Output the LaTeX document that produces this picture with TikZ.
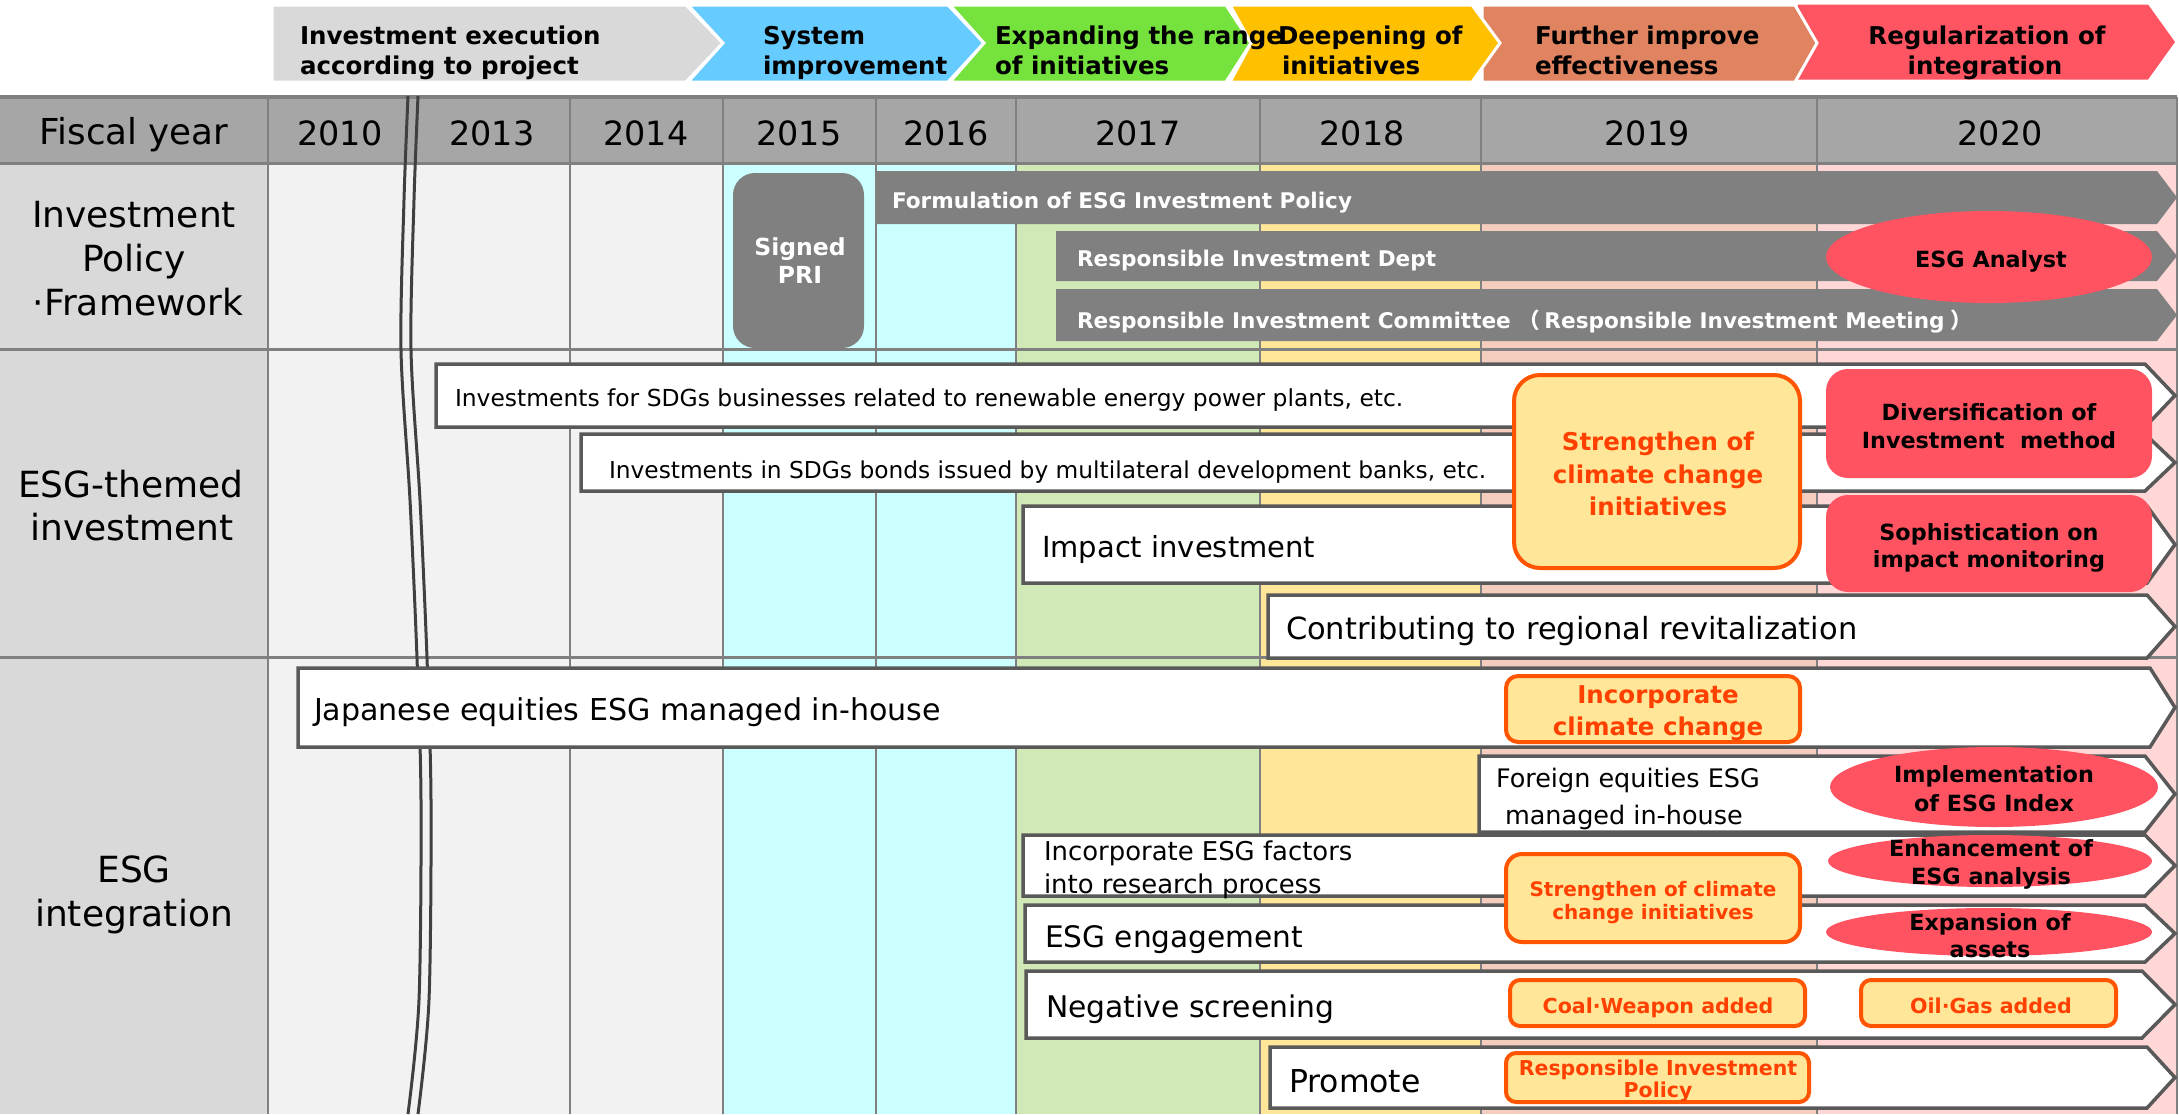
\documentclass[tikz,border=0pt]{standalone}
\usepackage{fontspec}
\setmainfont{DejaVu Sans}
\newfontfamily\cjkfont{Noto Sans CJK JP}
\newcommand\fsz[1]{\fontsize{#1}{#1}\selectfont}
% palette
\definecolor{hdr}{HTML}{A6A6A6}
\definecolor{gridgray}{HTML}{808080}
\definecolor{colLabel}{HTML}{D9D9D9}
\definecolor{colEarly}{HTML}{F2F2F2}
\definecolor{colCyan}{HTML}{CCFFFF}
\definecolor{colGreen}{RGB}{208,233,182}
\definecolor{colYellow}{HTML}{FFE699}
\definecolor{colSalmon}{RGB}{244,205,191}
\definecolor{colPink}{RGB}{255,215,215}
\definecolor{phGray}{HTML}{D9D9D9}
\definecolor{phBlue}{RGB}{102,204,255}
\definecolor{phGreen}{RGB}{118,226,62}
\definecolor{phYellow}{HTML}{FFC000}
\definecolor{phSalmon}{RGB}{224,131,97}
\definecolor{phRed}{RGB}{255,85,99}
\definecolor{barline}{HTML}{595959}
\definecolor{gbarfill}{HTML}{808080}
\definecolor{redfill}{RGB}{255,83,97}
\definecolor{ofill}{HTML}{FFE699}
\definecolor{oline}{HTML}{FF5500}
\definecolor{otext}{HTML}{FF4000}
\definecolor{breakline}{HTML}{404040}
\begin{document}
\begin{tikzpicture}[x=1pt,y=-1pt,
  t/.style={inner sep=0pt,outer sep=0pt},
  phase/.style={draw=white,line width=3pt,line join=miter},
  ptext/.style={t,font=\bfseries\fsz{24.5},anchor=base west},
  pctext/.style={t,font=\bfseries\fsz{24.5},anchor=base},
  gridv/.style={draw=gridgray,line width=2pt},
  gridh/.style={draw=gridgray,line width=3pt},
  rowlabel/.style={t,font=\fsz{36},anchor=base},
  yeartext/.style={t,font=\fsz{33.4},anchor=base},
  gbar/.style={fill=gbarfill},
  gtext/.style={t,font=\bfseries\fsz{21.6},text=white,anchor=base west},
  wbar/.style={fill=white,draw=barline,line width=3.5pt,line join=miter},
  wtext/.style={t,anchor=base west},
  obox/.style={fill=ofill,draw=oline,line width=4pt},
  otextstyle/.style={t,font=\bfseries,text=otext,anchor=base},
  rtext/.style={t,font=\bfseries\fsz{22.3},anchor=base},
  breakstroke/.style={draw=breakline,line width=3pt}
]
\fill[white] (0,0) rectangle (2179,1114);
\useasboundingbox (0,0) rectangle (2179,1114);

% ---------- phase banner ----------
\path[phase,fill=phRed] (1796,3) -- (2149,3) -- (2177,42) -- (2149,81) -- (1796,81) -- cycle;
\path[phase,fill=phSalmon] (1482,5) -- (1795,5) -- (1817,43) -- (1795,82) -- (1482,82) -- cycle;
\path[phase,fill=phGray] (272,5) -- (686,5) -- (723,43) -- (686,82) -- (272,82) -- cycle;
\path[phase,fill=phBlue] (688,5) -- (948,5) -- (984,43) -- (948,82) -- (688,82) -- (723,43) -- cycle;
\path[phase,fill=phGreen] (950,5) -- (1226,5) -- (1251,43) -- (1226,82) -- (950,82) -- (984,43) -- cycle;
\path[phase,fill=phYellow] (1230,5) -- (1472,5) -- (1500,43) -- (1472,82) -- (1230,82) -- (1251,43) -- cycle;

% ---------- table background ----------
\fill[colLabel] (0,163) rectangle (268,1114);
\fill[colEarly] (268,163) rectangle (723,1114);
\fill[colCyan] (723,163) rectangle (1016,1114);
\fill[colGreen] (1016,163) rectangle (1260,1114);
\fill[colYellow] (1260,163) rectangle (1481,1114);
\fill[colSalmon] (1481,163) rectangle (1817,1114);
\fill[colPink] (1817,163) rectangle (2177,1114);
\fill[hdr] (0,97) rectangle (2177,163);
\foreach \gx in {268,570,723,876,1016,1260,1481,1817,2177}
  \path[gridv] (\gx,97) -- (\gx,1114);
\foreach \gy in {163,349,657}
  \path[gridh] (0,\gy) -- (2177,\gy);
\path[draw=gridgray,line width=3.5pt] (0,97) -- (2177,97);

% ---------- break marks between 2010 and 2013 ----------
\path[breakstroke] plot[smooth] coordinates {(408,96) (404,200) (401,350) (410,500) (417,658) (421,800) (419,1000) (408,1114)};
\path[breakstroke] plot[smooth] coordinates {(418,96) (414,200) (411,350) (420,500) (427,658) (431,800) (429,1000) (418,1114)};

% ---------- investment policy / framework ----------
\fill[gbarfill,rounded corners=22pt] (733,173) rectangle (864,348);
\path[gbar] (875,171) -- (2157,171) -- (2177,197.5) -- (2157,224) -- (875,224) -- cycle;
\path[gbar] (1056,231) -- (2157,231) -- (2177,256) -- (2157,281) -- (1056,281) -- cycle;
\path[gbar] (1056,289) -- (2157,289) -- (2177,315) -- (2157,341) -- (1056,341) -- cycle;
\fill[redfill] (1989,257) ellipse [x radius=163pt,y radius=46pt];

% ---------- ESG-themed investment ----------
\path[wbar] (436,364) -- (2145,364) -- (2175,395.5) -- (2145,427) -- (436,427) -- cycle;
\path[wbar] (581,434) -- (2145,434) -- (2175,462.5) -- (2145,491) -- (581,491) -- cycle;
\path[wbar] (1023,506) -- (2147,506) -- (2175,544.5) -- (2147,583) -- (1023,583) -- cycle;
\path[wbar] (1268,595) -- (2147,595) -- (2175,626.5) -- (2147,658) -- (1268,658) -- cycle;
\path[obox,rounded corners=26pt] (1514,375) rectangle (1800,568);
\fill[redfill,rounded corners=22pt] (1826,369) rectangle (2152,478);
\fill[redfill,rounded corners=22pt] (1826,495) rectangle (2152,592);

% ---------- ESG integration ----------
\path[wbar] (298,668) -- (2150,668) -- (2175,707.5) -- (2150,747) -- (298,747) -- cycle;
\path[wbar] (1479,756) -- (2145,756) -- (2175,794) -- (2145,832) -- (1479,832) -- cycle;
\path[wbar] (1023,835) -- (2145,835) -- (2175,865.5) -- (2145,896) -- (1023,896) -- cycle;
\path[wbar] (1025,905) -- (2145,905) -- (2175,933.5) -- (2145,962) -- (1025,962) -- cycle;
\path[wbar] (1026,971) -- (2142,971) -- (2175,1004.5) -- (2142,1038) -- (1026,1038) -- cycle;
\path[wbar] (1270,1047) -- (2147,1047) -- (2175,1077.5) -- (2147,1108) -- (1270,1108) -- cycle;
\path[obox,rounded corners=12pt] (1506,676) rectangle (1800,742);
\path[obox,rounded corners=16pt] (1506,854) rectangle (1800,942);
\path[obox,rounded corners=10pt] (1510,980) rectangle (1805,1026);
\path[obox,rounded corners=10pt] (1861,980) rectangle (2116,1026);
\path[obox,rounded corners=10pt] (1506,1053) rectangle (1809,1102);
\fill[redfill] (1994,787) ellipse [x radius=164pt,y radius=40pt];
\fill[redfill] (1990,861) ellipse [x radius=162pt,y radius=26pt];
\fill[redfill] (1989,932) ellipse [x radius=163pt,y radius=24pt];

% ---------- texts: phases ----------
\node[ptext] (phA1) at (300,44) {Investment execution};
\node[ptext] (phA2) at (300,74) {according to project};
\node[ptext] (phB1) at (763,44) {System};
\node[ptext] (phB2) at (763,74) {improvement};
\node[ptext] (phC1) at (995,44) {Expanding the range};
\node[ptext] (phC2) at (995,74) {of initiatives};
\node[ptext] (phD1) at (1278,44) {Deepening of};
\node[ptext] (phD2) at (1282,74) {initiatives};
\node[ptext] (phE1) at (1535,44) {Further improve};
\node[ptext] (phE2) at (1535,74) {effectiveness};
\node[pctext] (phF1) at (1987,44) {Regularization of};
\node[pctext] (phF2) at (1985,74) {integration};

% ---------- texts: header ----------
\node[t,font=\fsz{35.7},anchor=base] (fy) at (134,144) {Fiscal year};
\node[yeartext] (y2010) at (340,145) {2010};
\node[yeartext] (y2013) at (492,145) {2013};
\node[yeartext] (y2014) at (646,145) {2014};
\node[yeartext] (y2015) at (799,145) {2015};
\node[yeartext] (y2016) at (946,145) {2016};
\node[yeartext] (y2017) at (1138,145) {2017};
\node[yeartext] (y2018) at (1362,145) {2018};
\node[yeartext] (y2019) at (1647,145) {2019};
\node[yeartext] (y2020) at (2000,145) {2020};

% ---------- texts: row labels ----------
\node[rowlabel] (rA1) at (134,227) {Investment};
\node[rowlabel] (rA2) at (134,271) {Policy};
\node[rowlabel] (rA3) at (138,315) {·Framework};
\node[rowlabel] (rB1) at (131,497) {ESG-themed};
\node[rowlabel] (rB2) at (132,540) {investment};
\node[rowlabel] (rC1) at (134,882) {ESG};
\node[rowlabel] (rC2) at (134,926) {integration};

% ---------- texts: policy / framework ----------
\node[t,font=\bfseries\fsz{23.5},text=white,anchor=base] (pri1) at (800,255) {Signed};
\node[t,font=\bfseries\fsz{23.5},text=white,anchor=base] (pri2) at (800,283) {PRI};
\node[gtext] (gb1) at (892,208) {Formulation of ESG Investment Policy};
\node[gtext] (gb2) at (1077,266) {Responsible Investment Dept};
\node[gtext] (gb3) at (1077,328) {Responsible Investment Committee\hspace{8pt}{\cjkfont （}\hspace{4pt}Responsible Investment Meeting\hspace{6pt}{\cjkfont ）}};
\node[rtext] (analyst) at (1991,267) {ESG Analyst};

% ---------- texts: ESG-themed ----------
\node[wtext,font=\fsz{23.4}] (sdgBiz) at (455,406) {Investments for SDGs businesses related to renewable energy power plants, etc.};
\node[wtext,font=\fsz{23.3}] (sdgBond) at (609,478) {Investments in SDGs bonds issued by multilateral development banks, etc.};
\node[wtext,font=\fsz{29}] (impact) at (1042,557) {Impact investment};
\node[wtext,font=\fsz{30.5}] (regional) at (1286,639) {Contributing to regional revitalization};
\node[otextstyle,font=\bfseries\fsz{24.5}] (cl1) at (1658,450) {Strengthen of};
\node[otextstyle,font=\bfseries\fsz{24.5}] (cl2) at (1658,483) {climate change};
\node[otextstyle,font=\bfseries\fsz{24.5}] (cl3) at (1658,515) {initiatives};
\node[rtext] (div1) at (1989,420) {Diversification of};
\node[rtext] (div2) at (1989,448) {Investment\ \ method};
\node[rtext] (soph1) at (1989,540) {Sophistication on};
\node[rtext] (soph2) at (1989,567) {impact monitoring};

% ---------- texts: ESG integration ----------
\node[wtext,font=\fsz{30.1}] (jpEq) at (314,720) {Japanese equities\ ESG managed in-house};
\node[otextstyle,font=\bfseries\fsz{24.5}] (inc1) at (1658,703) {Incorporate};
\node[otextstyle,font=\bfseries\fsz{24.5}] (inc2) at (1658,735) {climate change};
\node[wtext,font=\fsz{25.5}] (fgn1) at (1496,787) {Foreign equities ESG};
\node[wtext,font=\fsz{25.5}] (fgn2) at (1505,824) {managed in-house};
\node[rtext] (idx1) at (1994,782) {Implementation};
\node[rtext] (idx2) at (1994,811) {of ESG Index};
\node[wtext,font=\fsz{25.9}] (res1) at (1044,860) {Incorporate ESG factors};
\node[wtext,font=\fsz{25.9}] (res2) at (1044,893) {into research process};
\node[otextstyle,font=\bfseries\fsz{20}] (st1) at (1653,896) {Strengthen of climate};
\node[otextstyle,font=\bfseries\fsz{20}] (st2) at (1653,919) {change initiatives};
\node[rtext] (enh1) at (1991,856) {Enhancement of};
\node[rtext] (enh2) at (1991,884) {ESG analysis};
\node[wtext,font=\fsz{29.6}] (engage) at (1045,947) {ESG engagement};
\node[rtext] (exp1) at (1990,930) {Expansion of};
\node[rtext] (exp2) at (1990,957) {assets};
\node[wtext,font=\fsz{29.8}] (negscr) at (1046,1017) {Negative screening};
\node[otextstyle,font=\bfseries\fsz{20.6}] (coal) at (1658,1013) {Coal·Weapon added};
\node[otextstyle,font=\bfseries\fsz{20.6}] (oil) at (1991,1013) {Oil·Gas added};
\node[wtext,font=\fsz{31.5}] (promote) at (1289,1092) {Promote};
\node[otextstyle,font=\bfseries\fsz{20.5}] (rip1) at (1658,1075) {Responsible Investment};
\node[otextstyle,font=\bfseries\fsz{20.5}] (rip2) at (1658,1097) {Policy};
\end{tikzpicture}
\end{document}
